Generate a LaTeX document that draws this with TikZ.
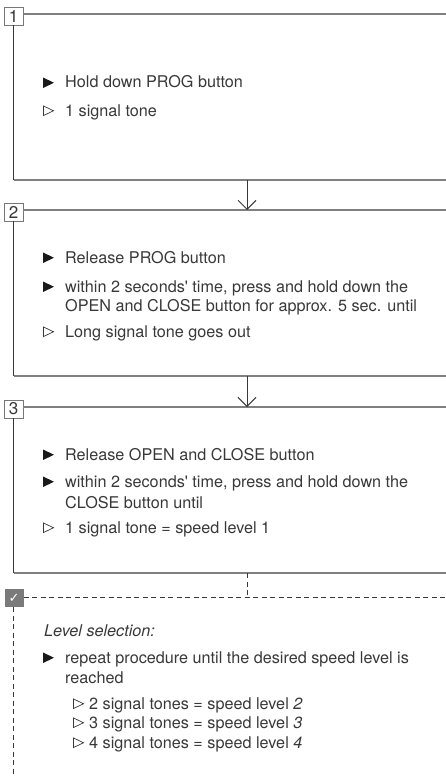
\documentclass[tikz,border=0pt]{standalone}
\usepackage{fontspec}
\setmainfont{TeX Gyre Heros}
\newfontfamily\symfont{DejaVu Sans}
\usetikzlibrary{arrows.meta}
\definecolor{txt}{HTML}{383838}
\definecolor{linegray}{HTML}{808080}
\definecolor{boxgray}{HTML}{777777}
\definecolor{checkgray}{HTML}{7A7A7A}
\newcommand\actmark[2]{\fill[black!90] (#1,#2-10.5) -- (#1+11,#2-5.25) -- (#1,#2) -- cycle;}
\newcommand\resmark[2]{\draw[txt,line width=0.7pt,line join=miter] (#1+0.4,#2-10.1) -- (#1+10.5,#2-5.25) -- (#1+0.4,#2-0.4) -- cycle;}
\newcommand\sq{\textquotesingle}
\begin{document}
\begin{tikzpicture}[x=1pt,y=-1pt,
  hline/.style={draw=linegray,line width=1.4pt},
  vline/.style={draw=txt,line width=0.9pt},
  numbox/.style={draw=boxgray,line width=0.8pt,fill=white,minimum width=19pt,minimum height=18pt,inner sep=0pt,font=\fontsize{17}{17}\selectfont,text=txt},
  checkbox/.style={fill=checkgray,minimum width=19pt,minimum height=18pt,inner sep=0pt,font=\symfont\fontsize{13}{13}\selectfont,text=white},
  item/.style={anchor=base west,inner sep=0pt,font=\fontsize{16.2}{20}\selectfont,text=txt},
  flow/.style={draw=txt,line width=0.9pt,-{Straight Barb[length=9pt,width=18pt,line width=0.9pt]}},
  dashline/.style={draw=txt,line width=0.9pt,dash pattern=on 5pt off 3.5pt},
]
\useasboundingbox (0,0) rectangle (446,776);

% ---------- step 1 ----------
\node[numbox] (n1) at (13.5,16) {1};
\coordinate (t1) at (446,14);
\coordinate (b1) at (446,180);
\draw[hline] (t1 -| n1.east) -- (t1);
\draw[vline] (n1.south) -- (n1.south |- b1);
\draw[hline] (n1.south |- b1) -- (b1);
\actmark{43}{88}
\node[item] (s1a) at (65,88) {Hold down PROG button};
\resmark{43}{116}
\node[item] (s1b) at (65,116) {1 signal tone};

% ---------- step 2 ----------
\node[numbox] (n2) at (13.5,212) {2};
\coordinate (t2) at (446,210);
\coordinate (b2) at (446,376);
\draw[hline] (t2 -| n2.east) -- (t2);
\draw[vline] (n2.south) -- (n2.south |- b2);
\draw[hline] (n2.south |- b2) -- (b2);
\actmark{43}{263}
\node[item] (s2a) at (65,263) {Release PROG button};
\actmark{43}{292}
\node[item] (s2b) at (65,292) {within 2 seconds\sq{} time, press and hold down the};
\node[item] (s2c) at (65,311) {OPEN and CLOSE button for approx. 5 sec. until};
\resmark{43}{337}
\node[item] (s2d) at (65,337) {Long signal tone goes out};

% ---------- step 3 ----------
\node[numbox] (n3) at (13.5,409) {3};
\coordinate (t3) at (446,407);
\coordinate (b3) at (446,573);
\draw[hline] (t3 -| n3.east) -- (t3);
\draw[vline] (n3.south) -- (n3.south |- b3);
\draw[hline] (n3.south |- b3) -- (b3);
\actmark{43}{460}
\node[item] (s3a) at (65,460) {Release OPEN and CLOSE button};
\actmark{43}{487}
\node[item] (s3b) at (65,487) {within 2 seconds\sq{} time, press and hold down the};
\node[item] (s3c) at (65,508) {CLOSE button until};
\resmark{43}{533}
\node[item] (s3d) at (65,533) {1 signal tone = speed level 1};

% ---------- level selection ----------
\node[checkbox] (n4) at (14,598) {✓};
\coordinate (t4) at (446,597);
\coordinate (b4) at (446,776);
\draw[dashline] (t4 -| n4.east) -- (t4);
\draw[dashline] (n4.south -| n3.south) -- (n3.south |- b4);
\node[item,font=\itshape\fontsize{16.2}{20}\selectfont] (s4a) at (44,636) {Level selection:};
\actmark{43}{663}
\node[item] (s4b) at (65,663) {repeat procedure until the desired speed level is};
\node[item] (s4c) at (65,683) {reached};
\resmark{73}{709}
\node[item] (s4d) at (89,709) {2 signal tones = speed level \textit{2}};
\resmark{73}{728}
\node[item] (s4e) at (89,728) {3 signal tones = speed level \textit{3}};
\resmark{73}{748}
\node[item] (s4f) at (89,748) {4 signal tones = speed level \textit{4}};

% ---------- connectors ----------
\coordinate (a1s) at (247,180);
\coordinate (a1e) at (247,210);
\draw[flow] (a1s) -- (a1e);
\coordinate (a2s) at (247,376);
\coordinate (a2e) at (247,407);
\draw[flow] (a2s) -- (a2e);
\coordinate (a3s) at (247,573);
\coordinate (a3e) at (247,597);
\draw[dashline] (a3s) -- (a3e);
\end{tikzpicture}
\end{document}
